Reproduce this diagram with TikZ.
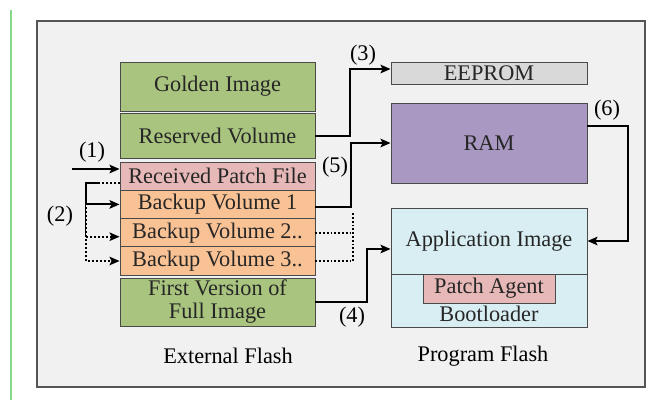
\documentclass[tikz,border=0pt]{standalone}
\usepackage{fontspec}
\setmainfont{Liberation Serif}
\usetikzlibrary{arrows.meta}

\definecolor{volgreen}{HTML}{A9C47F}
\definecolor{patchpink}{HTML}{E6B9B8}
\definecolor{bakorange}{HTML}{F9C295}
\definecolor{rampurple}{HTML}{A898C2}
\definecolor{appblue}{HTML}{D8EEF3}
\definecolor{eepgray}{HTML}{D9D9D9}
\definecolor{framebg}{HTML}{F1F1F1}
\definecolor{frameline}{HTML}{555555}
\definecolor{boxline}{HTML}{4A4A4A}
\definecolor{edgegreen}{HTML}{86D98A}

\tikzset{
  mem/.style={draw=boxline, line width=0.9pt, inner sep=0pt,
    minimum width=195pt, font=\fontsize{22.3}{23}\selectfont, text=black!85},
  flow/.style={-{Stealth[length=10pt,width=8.5pt,inset=2pt]}, line width=2pt},
  copyflow/.style={flow, dotted, line width=1.8pt},
  tag/.style={font=\fontsize{22.3}{23}\selectfont}
}

\begin{document}
\begin{tikzpicture}[x=1pt,y=-1pt]
\useasboundingbox (0,0) rectangle (660,400);

% A. Screenshot edge and outer frame
\draw[edgegreen, line width=1.2pt] (11,10) -- (11,400);
\draw[draw=frameline, line width=1.5pt, fill=framebg] (37,21) rectangle (645,387);

% B. External flash column
\node[mem, fill=volgreen, minimum height=49pt] (golden) at (217.5,86.5) {Golden Image};
\node[mem, fill=volgreen, minimum height=45pt] (reserved) at (217.5,135.5) {Reserved Volume};
\node[mem, fill=patchpink, minimum height=28.3pt] (patch) at (217.5,176.1) {Received Patch File};
\node[mem, fill=bakorange, minimum height=28.3pt] (bak1) at (217.5,204.4) {Backup Volume 1};
\node[mem, fill=bakorange, minimum height=28.3pt] (bak2) at (217.5,232.7) {Backup Volume 2..};
\node[mem, fill=bakorange, minimum height=28.3pt] (bak3) at (217.5,261.0) {Backup Volume 3..};
\node[mem, fill=volgreen, minimum height=48pt, align=center] (first) at (217.5,302) {First Version of\\Full Image};
\node[tag] (extflash) at (228,356) {External Flash};

% C. Program flash and the other memories
\node[mem, fill=eepgray, minimum width=196pt, minimum height=22pt] (eeprom) at (489,73) {EEPROM};
\node[mem, fill=rampurple, minimum width=196pt, minimum height=80pt] (ram) at (489,143) {RAM};
\node[mem, fill=appblue, minimum width=196pt, minimum height=66pt] (appimg) at (489,241) {Application Image};
\node[mem, fill=appblue, minimum width=196pt, minimum height=53pt] (boot) at (489,300.5) {};
\node[mem, fill=patchpink, minimum width=132pt, minimum height=29pt] (agent) at (489,288.5) {Patch Agent};
\node[tag, text=black!85] (bootlbl) at (489,314) {Bootloader};
\node[tag] (progflash) at (483,356) {Program Flash};

% D. Update steps
\coordinate (in1) at (72,169);
\draw[flow] (in1) -- (in1 -| patch.west);
\node[tag] (s1) at (92,152) {(1)};

\coordinate (fork) at (86,203);
\draw[copyflow] ([yshift=-7pt]patch.west) -- ++(-34,0) |- ([yshift=-4pt]bak2.west);
\draw[copyflow] (fork) |- (bak3.west);
\draw[flow] ([yshift=-7pt,xshift=-20pt]patch.west) -- ++(-14,0) |- (bak1.west);
\node[tag] (s2) at (60,216) {(2)};

\draw[flow] (reserved.east) -- ++(35,0) |- ([yshift=4pt]eeprom.west);
\node[tag] (s3) at (363,55) {(3)};

\draw[flow] (first.east) -- ++(52,0) |- ([yshift=-8pt]appimg.west);
\node[tag] (s4) at (352,317) {(4)};

\draw[flow] ([yshift=-3pt]bak1.east) -- ++(36,0) |- (ram.west);
\node[tag] (s5) at (335,167) {(5)};

\draw[flow] ([yshift=17pt]ram.east) -- ++(41,0) |- (appimg.east);
\node[tag] (s6) at (607,110) {(6)};

% E. Backup volumes tied together on the right
\coordinate (tie) at (353,213);
\draw[dotted, line width=1.8pt] (bak2.east) -- (bak2.east -| tie);
\draw[dotted, line width=1.8pt] (bak3.east) -- (bak3.east -| tie) -- (tie);

\end{tikzpicture}
\end{document}
